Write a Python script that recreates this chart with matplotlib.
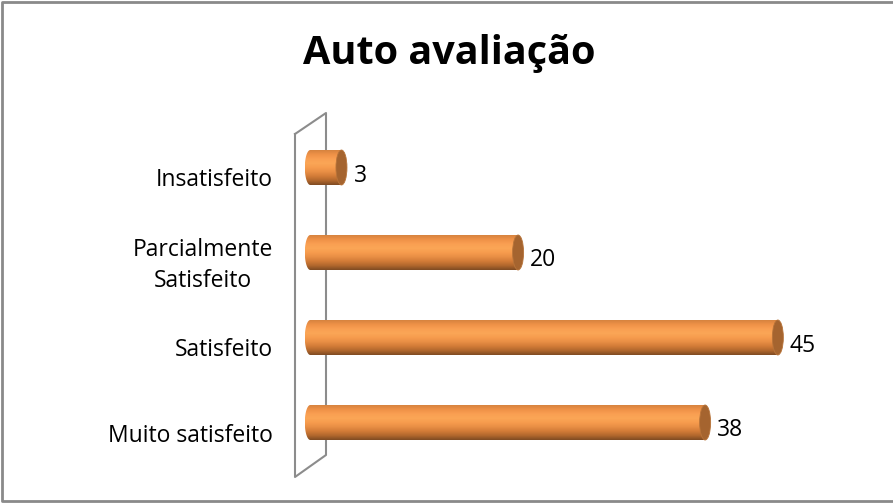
import numpy as np
import matplotlib
matplotlib.use("Agg")
import matplotlib.pyplot as plt
from matplotlib.patches import Polygon, Ellipse
from matplotlib.colors import LinearSegmentedColormap
from matplotlib.lines import Line2D

plt.rcParams['font.family'] = ['Open Sans', 'DejaVu Sans']

title = "Auto avaliação"
categories = ["Insatisfeito", "Parcialmente\nSatisfeito", "Satisfeito", "Muito satisfeito"]
values = [3, 20, 45, 38]

W, H = 893, 503
fig = plt.figure(figsize=(W / 100, H / 100), dpi=100)
fig.patch.set_facecolor("white")

def fx(px):
    return px / W

def fy(py):
    return 1 - py / H

# outer border (top, left, bottom)
bx = [fx(900), fx(1.5), fx(1.5), fx(900)]
by = [fy(1.5), fy(1.5), fy(501), fy(501)]
fig.add_artist(Line2D(bx, by, transform=fig.transFigure, color="#8a8a8a", linewidth=2.0))

# axes placement (pixels)
ax_l, ax_r, ax_t, ax_b = 296, 860, 100, 480
ax = fig.add_axes([fx(ax_l), fy(ax_b), fx(ax_r - ax_l), fy(ax_t) - fy(ax_b)])
ax.set_axis_off()

k = 10.39          # px per unit
x0_px = 310.3      # px of value 0
spacing = 85.0     # px between categories
c0_px = 167.5      # px of first bar center

xmin = (ax_l - x0_px) / k
xmax = (ax_r - x0_px) / k
ytop = (ax_t - c0_px) / spacing
ybot = (ax_b - c0_px) / spacing

bar_h = 35 / spacing
a = 5.5 / k  # ellipse half-width in data units

grad_colors = ["#d6833f", "#ef9147", "#f99f52", "#fba656", "#f79c4e", "#e88e45",
               "#d27b37", "#b0672d", "#7e4a22"]
cmap = LinearSegmentedColormap.from_list("cyl", grad_colors)
grad = np.linspace(0, 1, 256).reshape(-1, 1)

for i, (cat, v) in enumerate(zip(categories, values)):
    yc = i
    yt = yc - bar_h / 2
    yb = yc + bar_h / 2
    theta = np.linspace(np.pi / 2, 3 * np.pi / 2, 40)
    left = [(a * np.cos(t), yc - (bar_h / 2) * np.sin(t)) for t in theta]
    pts = [(v, yt)] + left + [(v, yb)]
    poly = Polygon(pts, closed=True, facecolor="none", edgecolor="none", zorder=2)
    ax.add_patch(poly)
    im = ax.imshow(grad, cmap=cmap, aspect="auto", origin="upper",
                   extent=(-a, v, yb, yt), zorder=2, interpolation="bilinear")
    im.set_clip_path(poly)
    ax.add_patch(Ellipse((v, yc), 2 * a, bar_h, facecolor="#a5642f",
                         edgecolor="#b8743a", linewidth=0.6, zorder=3))
    ax.annotate(str(v), xy=(v, yc), xytext=(12, -8), textcoords="offset pixels",
                ha="left", va="center", fontsize=16.5, color="black", zorder=4)

# wall (parallelogram) behind bars
wall_px = [(295, 134), (326, 113), (326, 455), (295, 477), (295, 134)]
wx = [fx(p[0]) for p in wall_px]
wy = [fy(p[1]) for p in wall_px]
ax.add_line(Line2D(wx, wy, transform=fig.transFigure, color="#8c8c8c", linewidth=1.5,
                   zorder=1, clip_on=False))

ax.set_xlim(xmin, xmax)
ax.set_ylim(ybot, ytop)

# category labels
for i, cat in enumerate(categories):
    ax.text(fx(273), fy(c0_px + spacing * i + 13), cat, transform=fig.transFigure,
            ha="right", va="center", multialignment="center", fontsize=16.5,
            linespacing=1.35, color="black")

fig.text(fx(449.5), fy(64), title, ha="center", va="baseline", fontsize=28.5,
         fontweight="bold", color="black")

fig.savefig("out.png", dpi=100, facecolor="white")
